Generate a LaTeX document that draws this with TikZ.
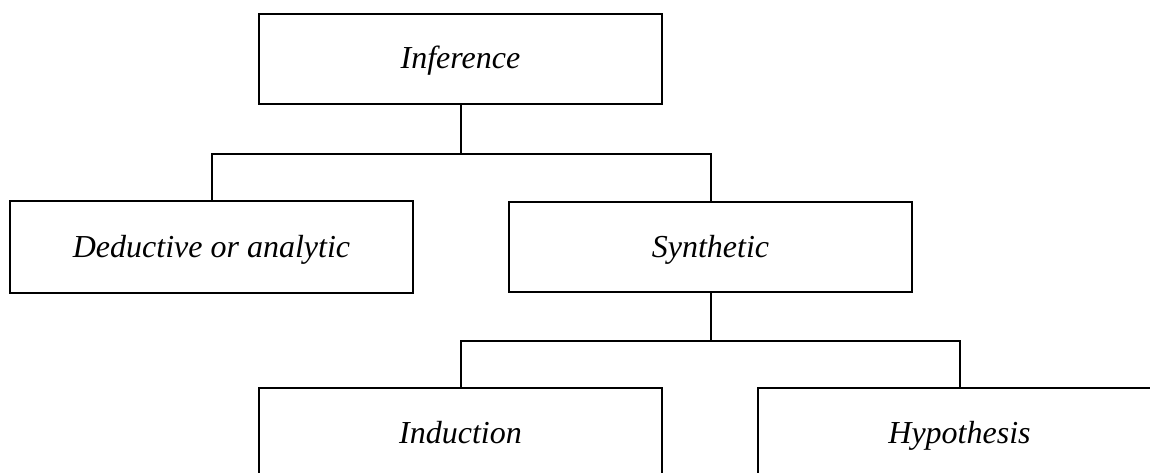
\documentclass[tikz,border=0pt]{standalone}
\usepackage{fontspec}
\setmainfont{Liberation Serif}
\usetikzlibrary{positioning}

\tikzset{concept/.style={rectangle, draw, line width=2pt, minimum width=403pt, minimum height=90pt, inner sep=0pt, text height=26pt, text depth=6pt, font=\fontsize{32}{38}\selectfont\itshape}}
\tikzset{branch/.style={line width=2pt}}

\begin{document}
\begin{tikzpicture}[x=1pt, y=-1pt]
		
		% FRAME
		\clip (0,0) rectangle (1150,473);
		\useasboundingbox (0,0) rectangle (1150,473);
		
		% CONCEPTS
		\node [concept] (inference) at (460.5,59) {Inference};
		\node [concept, minimum height=92pt] (deductive) at (211.5,247) {Deductive or analytic};
		\node [concept] (synthetic) at (710.5,247) {Synthetic};
		\node [concept] (induction) at (460.5,433) {Induction};
		\node [concept] (hypothesis) at (959.5,433) {Hypothesis};
		
		% BRANCHES
		\draw [branch] (inference.south) -- ++(0,49) coordinate (fork1);
		\draw [branch] (deductive.north) |- (fork1) -| (synthetic.north);
		\draw [branch] (synthetic.south) -- ++(0,48) coordinate (fork2);
		\draw [branch] (induction.north) |- (fork2) -| (hypothesis.north);
		
\end{tikzpicture}
\end{document}
